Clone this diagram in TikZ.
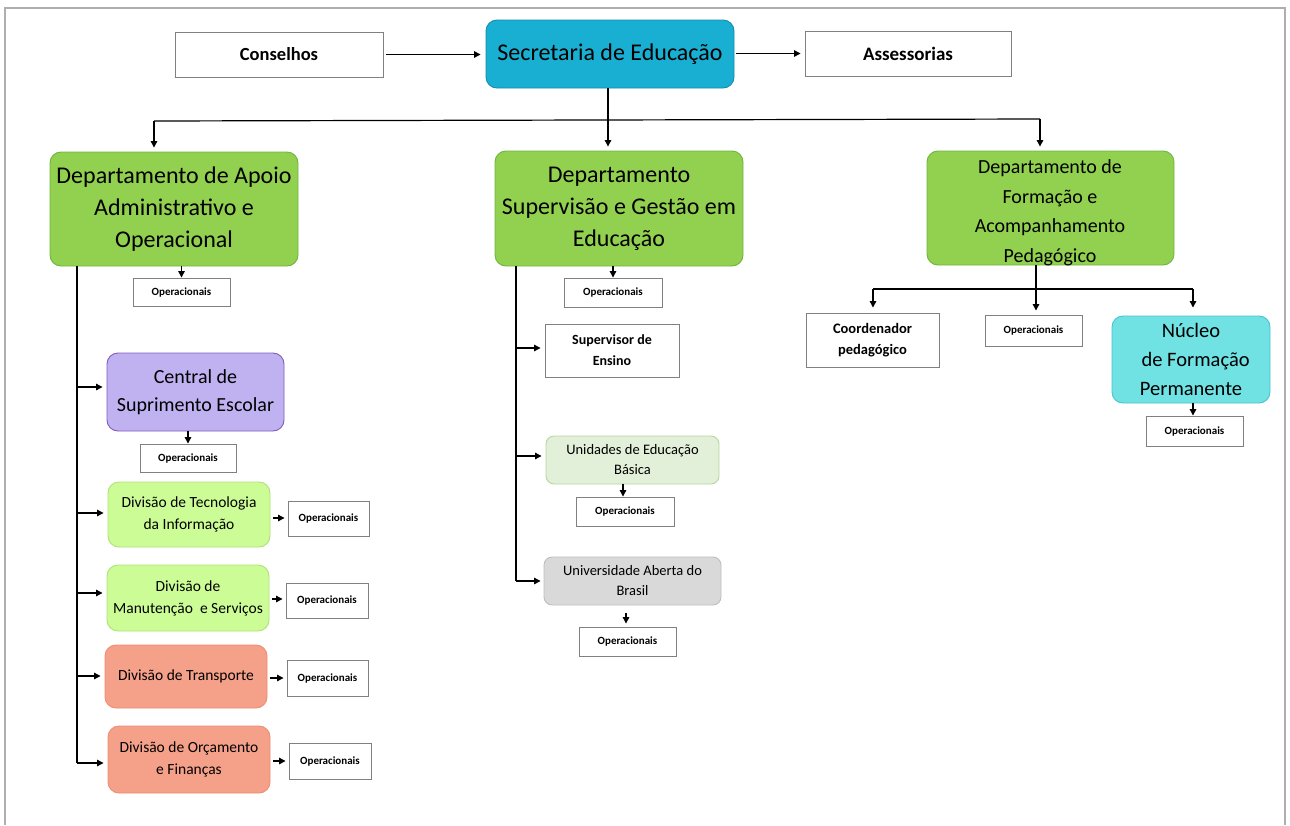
\documentclass[tikz,border=0pt]{standalone}
\usepackage{fontspec}
\setmainfont{Carlito}
\usetikzlibrary{arrows.meta}

\definecolor{secfill}{RGB}{24,175,210}
\definecolor{secdraw}{RGB}{20,140,175}
\definecolor{depfill}{RGB}{146,208,80}
\definecolor{depdraw}{RGB}{110,180,60}
\definecolor{lavfill}{RGB}{192,178,240}
\definecolor{lavdraw}{RGB}{128,90,190}
\definecolor{limefill}{RGB}{204,252,150}
\definecolor{limedraw}{RGB}{175,225,120}
\definecolor{salfill}{RGB}{245,160,136}
\definecolor{saldraw}{RGB}{240,140,115}
\definecolor{palefill}{RGB}{226,240,217}
\definecolor{paledraw}{RGB}{180,215,160}
\definecolor{greyfill}{RGB}{217,217,217}
\definecolor{greydraw}{RGB}{190,190,190}
\definecolor{aquafill}{RGB}{112,226,228}
\definecolor{aquadraw}{RGB}{70,195,205}
\definecolor{boxline}{RGB}{128,128,128}
\definecolor{frameline}{RGB}{175,175,175}

\tikzset{
  box/.style={rectangle, inner sep=0pt, align=center, line width=0.9pt},
  whitebox/.style={box, draw=boxline, fill=white},
  rbox/.style={box, rounded corners=11pt},
  opbox/.style={whitebox, font=\fontsize{11}{13}\selectfont\bfseries},
  link/.style={line width=1.2pt, draw=black},
  arr/.style={link, -{Triangle[length=6.5pt,width=6.5pt]}},
}

\begin{document}
\begin{tikzpicture}[x=1pt,y=-1pt]
\useasboundingbox (0,0) rectangle (1290,825);
\draw[frameline, line width=1.6pt] (5,825) -- (5,8) -- (1285,8) -- (1285,825);

% top row
\node[whitebox, minimum width=208pt, minimum height=45pt, font=\fontsize{18.5}{22}\selectfont\bfseries] (cons) at (279,54.5) {Conselhos};
\node[rbox, draw=secdraw, fill=secfill, minimum width=248pt, minimum height=68pt, font=\fontsize{24}{29}\selectfont] (sec) at (610,54) {Secretaria de Educação};
\node[whitebox, minimum width=206pt, minimum height=45pt, font=\fontsize{19}{22}\selectfont\bfseries] (asse) at (908,53.5) {Assessorias};

\draw[arr, shorten <=3pt, shorten >=5pt] (cons.east) -- (sec.west |- cons.east);
\draw[arr, shorten <=2pt, shorten >=4pt] (sec.east |- asse.west) -- (asse.west);

% departments
\node[rbox, draw=depdraw, fill=depfill, minimum width=248pt, minimum height=114pt, font=\fontsize{24}{32}\selectfont] (d1) at (174,209)
  {Departamento de Apoio\\Administrativo e\\Operacional};
\node[rbox, draw=depdraw, fill=depfill, minimum width=248pt, minimum height=115pt, font=\fontsize{24}{32}\selectfont] (d2) at (619,208.5)
  {Departamento\\Supervisão e Gestão em\\Educação};
\node[rbox, draw=depdraw, fill=depfill, minimum width=247pt, minimum height=114pt] (d3) at (1050.5,208) {};
\node[align=center, inner sep=0pt, font=\fontsize{20}{29.5}\selectfont] (d3text) at (1050,213)
  {Departamento de\\Formação e\\Acompanhamento\\Pedagógico};

\coordinate (busL) at (154,121);
\coordinate (busR) at (1040,119);
\coordinate (secdown) at (608,88);
\draw[link] (busL) -- (busR);
\draw[arr, shorten >=4pt] (busL) -- (busL |- d1.north);
\draw[arr, shorten >=4pt] (busR) -- (busR |- d3.north);
\draw[arr, shorten >=4pt] (secdown) -- (secdown |- d2.north);

% --- first department ---
\node[opbox, minimum width=97pt, minimum height=28pt] (op1) at (181.5,292) {Operacionais};
\draw[arr] (op1.north |- d1.south) -- (op1.north);

\coordinate (v1top) at (77,266);
\coordinate (v1bot) at (77,763);
\draw[link] (v1top) -- (v1bot);

\node[rbox, draw=lavdraw, fill=lavfill, minimum width=177pt, minimum height=78pt, font=\fontsize{20}{28}\selectfont] (cse) at (195.5,392)
  {Central de\\Suprimento Escolar};
\node[opbox, minimum width=96pt, minimum height=28pt] (op2) at (188,458) {Operacionais};

\node[rbox, draw=limedraw, fill=limefill, minimum width=162pt, minimum height=65pt, font=\fontsize{15.5}{22}\selectfont] (dti) at (189,514.5)
  {Divisão de Tecnologia\\da Informação};
\node[opbox, minimum width=81pt, minimum height=35pt] (op3) at (328.5,518.5) {Operacionais};

\node[rbox, draw=limedraw, fill=limefill, minimum width=162pt, minimum height=66pt, font=\fontsize{15.5}{22}\selectfont] (dms) at (188,598)
  {Divisão de\\Manutenção\ \ e Serviços};
\node[opbox, minimum width=82pt, minimum height=35pt] (op4) at (327,600.5) {Operacionais};

\node[rbox, draw=saldraw, fill=salfill, minimum width=162pt, minimum height=63pt, font=\fontsize{15.5}{22}\selectfont] (dtr) at (186,676.5)
  {Divisão de Transporte};
\node[opbox, minimum width=81pt, minimum height=36pt] (op5) at (327.5,678) {Operacionais};

\node[rbox, draw=saldraw, fill=salfill, minimum width=162pt, minimum height=67pt, font=\fontsize{15.5}{22}\selectfont] (dof) at (189,759.5)
  {Divisão de Orçamento\\e Finanças};
\node[opbox, minimum width=82pt, minimum height=36pt] (op6) at (330,761) {Operacionais};

\draw[arr, shorten >=4pt] (v1top |- 0,387) -- (cse.west |- 0,387);
\draw[arr] (op2.north |- cse.south) -- (op2.north);
\draw[arr, shorten >=4pt] (v1top |- 0,513) -- (dti.west |- 0,513);
\draw[arr, shorten >=4pt] (v1top |- 0,593) -- (dms.west |- 0,593);
\draw[arr, shorten >=4pt] (v1top |- 0,676) -- (dtr.west |- 0,676);
\draw[arr, shorten >=4pt] (v1bot) -- (dof.west |- v1bot);

\draw[arr, shorten <=3pt, shorten >=3pt] (dti.east |- 0,518) -- (op3.west |- 0,518);
\draw[arr, shorten <=3pt, shorten >=3pt] (dms.east |- 0,599) -- (op4.west |- 0,599);
\draw[arr, shorten <=3pt, shorten >=3pt] (dtr.east |- 0,678) -- (op5.west |- 0,678);
\draw[arr, shorten <=3pt, shorten >=3pt] (dof.east |- 0,761) -- (op6.west |- 0,761);

% --- second department ---
\node[opbox, minimum width=98pt, minimum height=29pt] (op7) at (613,292.5) {Operacionais};
\draw[arr] (op7.north |- d2.south) -- (op7.north);

\coordinate (v2top) at (516,266);
\coordinate (v2bot) at (516,581);
\draw[link] (v2top) -- (v2bot);

\node[whitebox, minimum width=134pt, minimum height=53pt, font=\fontsize{14}{21}\selectfont\bfseries] (sup) at (612,350.5)
  {Supervisor de\\Ensino};
\node[rbox, rounded corners=8pt, draw=paledraw, fill=palefill, minimum width=173pt, minimum height=48pt, font=\fontsize{14.5}{20}\selectfont] (ueb) at (632.5,460)
  {Unidades de Educação\\Básica};
\node[opbox, minimum width=98pt, minimum height=29pt] (op8) at (625,511.5) {Operacionais};
\node[rbox, rounded corners=8pt, draw=greydraw, fill=greyfill, minimum width=177pt, minimum height=48pt, font=\fontsize{14.5}{20}\selectfont] (uab) at (632.5,581)
  {Universidade Aberta do\\Brasil};
\node[opbox, minimum width=97pt, minimum height=29pt] (op9) at (627.5,641.5) {Operacionais};

\draw[arr, shorten >=4pt] (v2top |- 0,348) -- (sup.west |- 0,348);
\draw[arr, shorten >=4pt] (v2top |- 0,456) -- (ueb.west |- 0,456);
\draw[arr] (op8.north -| 623,0) ++(0,-13) -- (op8.north -| 623,0);
\draw[arr, shorten >=3pt] (v2bot) -- (uab.west |- v2bot);
\draw[arr, shorten <=8pt, shorten >=3pt] (uab.south -| 626,0) -- (op9.north -| 626,0);

% --- third department ---
\node[whitebox, minimum width=133pt, minimum height=54pt, font=\fontsize{14.5}{21}\selectfont\bfseries] (cp) at (872.5,340)
  {Coordenador\\pedagógico};
\node[opbox, minimum width=97pt, minimum height=31pt] (op10) at (1033.5,330.5) {Operacionais};
\node[rbox, draw=aquadraw, fill=aquafill, minimum width=158pt, minimum height=87pt, font=\fontsize{20.5}{29}\selectfont] (nfp) at (1191,359.5)
  {Núcleo\\\ \ de Formação\\Permanente};
\node[opbox, minimum width=97pt, minimum height=30pt] (op11) at (1194.5,431) {Operacionais};

\coordinate (b3L) at (873,289);
\coordinate (b3R) at (1193,289);
\coordinate (d3down) at (1036,265);
\draw[link] (b3L) -- (b3R);
\draw[arr, shorten >=4pt] (d3down) -- (d3down |- op10.north);
\draw[arr, shorten >=5pt] (b3L) -- (b3L |- cp.north);
\draw[arr, shorten >=8pt] (b3R) -- (b3R |- nfp.north);
\draw[arr] (op11.north -| 1193,0) ++(0,-13) -- (op11.north -| 1193,0);

\end{tikzpicture}
\end{document}
